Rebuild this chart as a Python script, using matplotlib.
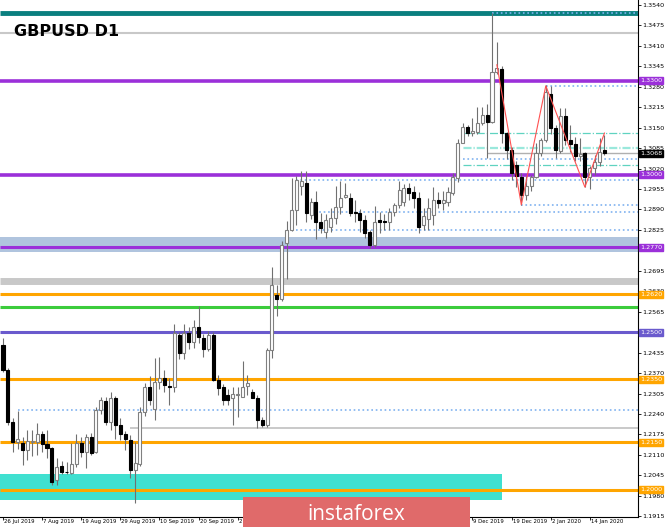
import matplotlib
matplotlib.use("Agg")
import matplotlib.pyplot as plt
import matplotlib.transforms as mtransforms
from matplotlib.patches import Rectangle
import numpy as np

# daily candles, 26 Jul 2019 .. 17 Jan 2020 (one per trading day)
opens = [1.2460, 1.2380, 1.2215, 1.2150, 1.2148, 1.2125, 1.2150, 1.2150, 1.2175, 1.2145,
         1.2132, 1.2030, 1.2075, 1.2057, 1.2053, 1.2080, 1.2148, 1.2120, 1.2167, 1.2118,
         1.2253, 1.2282, 1.2215, 1.2290, 1.2205, 1.2178, 1.2157, 1.2062, 1.2080, 1.2246,
         1.2326, 1.2256, 1.2342, 1.2355, 1.2330, 1.2326, 1.2490, 1.2435, 1.2497, 1.2470,
         1.2517, 1.2480, 1.2446, 1.2490, 1.2348, 1.2325, 1.2300, 1.2290, 1.2300, 1.2295,
         1.2330, 1.2310, 1.2292, 1.2222, 1.2205, 1.2443, 1.2618, 1.2605, 1.2783, 1.2825,
         1.2888, 1.2965, 1.2975, 1.2873, 1.2914, 1.2850, 1.2818, 1.2835, 1.2862, 1.2898,
         1.2930, 1.2928, 1.2882, 1.2878, 1.2857, 1.2818, 1.2777, 1.2856, 1.2855, 1.2850,
         1.2882, 1.2904, 1.2915, 1.2958, 1.2945, 1.2925, 1.2840, 1.2860, 1.2873, 1.2920,
         1.2912, 1.2915, 1.2943, 1.2990, 1.3101, 1.3152, 1.3133, 1.3136, 1.3165, 1.3190,
         1.3168, 1.3327, 1.3335, 1.3133, 1.3080, 1.3033, 1.2993, 1.2936, 1.2965, 1.2993,
         1.3070, 1.3110, 1.3258, 1.3150, 1.3075, 1.3188, 1.3112, 1.3097, 1.3060, 1.3070,
         1.2994, 1.3022, 1.3040, 1.3078]
highs = [1.2481, 1.2385, 1.2228, 1.2250, 1.2167, 1.2190, 1.2190, 1.2210, 1.2185, 1.2190,
         1.2135, 1.2100, 1.2090, 1.2088, 1.2148, 1.2175, 1.2167, 1.2176, 1.2180, 1.2262,
         1.2294, 1.2295, 1.2310, 1.2297, 1.2227, 1.2185, 1.2172, 1.2150, 1.2262, 1.2340,
         1.2362, 1.2418, 1.2420, 1.2380, 1.2355, 1.2527, 1.2501, 1.2527, 1.2515, 1.2540,
         1.2582, 1.2495, 1.2505, 1.2500, 1.2365, 1.2335, 1.2320, 1.2325, 1.2325, 1.2410,
         1.2365, 1.2320, 1.2300, 1.2230, 1.2450, 1.2708, 1.2650, 1.2790, 1.2855, 1.2990,
         1.2996, 1.3013, 1.3012, 1.2925, 1.2950, 1.2880, 1.2875, 1.2895, 1.2965, 1.2982,
         1.2975, 1.2942, 1.2920, 1.2893, 1.2872, 1.2825, 1.2902, 1.2882, 1.2875, 1.2895,
         1.2910, 1.2980, 1.2970, 1.2975, 1.2965, 1.2945, 1.2895, 1.2925, 1.2960, 1.2945,
         1.2950, 1.2960, 1.3005, 1.3115, 1.3165, 1.3158, 1.3181, 1.3215, 1.3215, 1.3225,
         1.3514, 1.3422, 1.3345, 1.3135, 1.3090, 1.3045, 1.3005, 1.2995, 1.3000, 1.3100,
         1.3118, 1.3285, 1.3283, 1.3160, 1.3212, 1.3213, 1.3159, 1.3120, 1.3118, 1.3074,
         1.3029, 1.3064, 1.3118, 1.3127]
lows = [1.2375, 1.2205, 1.2119, 1.2130, 1.2078, 1.2095, 1.2105, 1.2110, 1.2120, 1.2100,
        1.2015, 1.2014, 1.2050, 1.2048, 1.2048, 1.2072, 1.2103, 1.2068, 1.2110, 1.2115,
        1.2240, 1.2205, 1.2190, 1.2160, 1.2158, 1.2126, 1.2035, 1.1958, 1.2075, 1.2235,
        1.2268, 1.2222, 1.2320, 1.2310, 1.2270, 1.2310, 1.2415, 1.2415, 1.2447, 1.2450,
        1.2465, 1.2420, 1.2440, 1.2345, 1.2300, 1.2270, 1.2270, 1.2205, 1.2230, 1.2295,
        1.2300, 1.2290, 1.2195, 1.2200, 1.2200, 1.2418, 1.2553, 1.2598, 1.2670, 1.2822,
        1.2840, 1.2935, 1.2850, 1.2860, 1.2795, 1.2815, 1.2800, 1.2820, 1.2845, 1.2875,
        1.2925, 1.2868, 1.2850, 1.2820, 1.2800, 1.2767, 1.2772, 1.2815, 1.2825, 1.2825,
        1.2868, 1.2895, 1.2900, 1.2920, 1.2895, 1.2815, 1.2825, 1.2825, 1.2840, 1.2895,
        1.2887, 1.2900, 1.2935, 1.2978, 1.3100, 1.3125, 1.3125, 1.3130, 1.3160, 1.3055,
        1.3165, 1.3320, 1.3100, 1.3050, 1.2985, 1.2960, 1.2905, 1.2920, 1.2950, 1.2990,
        1.3060, 1.3105, 1.3130, 1.3055, 1.3070, 1.3096, 1.3073, 1.3045, 1.3043, 1.2961,
        1.2955, 1.2999, 1.3029, 1.3062]
closes = [1.2380, 1.2215, 1.2150, 1.2160, 1.2125, 1.2155, 1.2153, 1.2175, 1.2145, 1.2132,
          1.2024, 1.2073, 1.2057, 1.2055, 1.2080, 1.2148, 1.2120, 1.2167, 1.2117, 1.2253,
          1.2285, 1.2215, 1.2292, 1.2205, 1.2176, 1.2160, 1.2062, 1.2085, 1.2246, 1.2326,
          1.2285, 1.2342, 1.2355, 1.2333, 1.2326, 1.2497, 1.2435, 1.2497, 1.2470, 1.2517,
          1.2485, 1.2446, 1.2490, 1.2348, 1.2322, 1.2283, 1.2285, 1.2305, 1.2302, 1.2326,
          1.2340, 1.2292, 1.2220, 1.2205, 1.2443, 1.2650, 1.2605, 1.2777, 1.2825, 1.2888,
          1.2984, 1.2980, 1.2880, 1.2914, 1.2850, 1.2830, 1.2856, 1.2862, 1.2898, 1.2928,
          1.2935, 1.2880, 1.2878, 1.2857, 1.2815, 1.2776, 1.2850, 1.2850, 1.2850, 1.2882,
          1.2904, 1.2952, 1.2958, 1.2942, 1.2925, 1.2835, 1.2870, 1.2895, 1.2920, 1.2912,
          1.2920, 1.2945, 1.2993, 1.3101, 1.3152, 1.3133, 1.3140, 1.3165, 1.3190, 1.3168,
          1.3327, 1.3340, 1.3133, 1.3080, 1.3006, 1.2995, 1.2936, 1.2965, 1.2993, 1.3070,
          1.3110, 1.3263, 1.3150, 1.3080, 1.3188, 1.3112, 1.3097, 1.3060, 1.3065, 1.2994,
          1.3022, 1.3042, 1.3072, 1.3068]

date_labels = ["26 Jul 2019", "7 Aug 2019", "19 Aug 2019", "29 Aug 2019", "10 Sep 2019",
               "20 Sep 2019", "2 Oct 2019", "14 Oct 2019", "24 Oct 2019", "5 Nov 2019",
               "15 Nov 2019", "27 Nov 2019", "9 Dec 2019", "19 Dec 2019", "2 Jan 2020",
               "14 Jan 2020"]
label_step = 8

price_ticks = np.round(np.arange(1.1915, 1.3541, 0.0065), 4)

# zigzag (bar index, price)
zz_bars = [101, 106, 111, 119, 123]
zz_prices = [1.3350, 1.2905, 1.3283, 1.2961, 1.3133]

# horizontal levels: price, first bar, colour, style, width
levels = [
    (1.3515, None, "#0a7f7f", "-", 3.5),
    (1.3514, 100, "#7fb2f0", ":", 1.2),
    (1.3450, None, "#c8c8c8", "-", 1.5),
    (1.3300, None, "#9b30d9", "-", 2.6),
    (1.3283, 111, "#7fb2f0", ":", 1.2),
    (1.3133, 94, "#5fd3c0", "-.", 0.9),
    (1.3090, 94, "#9ae8dc", "-.", 0.9),
    (1.3084, 94, "#9ae8dc", "-.", 0.9),
    (1.3068, 99, "#b0b0b0", "-", 1.0),
    (1.3050, 94, "#7fb2f0", ":", 1.2),
    (1.3030, 94, "#5fd3c0", "-.", 0.9),
    (1.3000, None, "#9b30d9", "-", 2.6),
    (1.2985, 60, "#7fb2f0", ":", 1.2),
    (1.2905, 106, "#7fb2f0", ":", 1.2),
    (1.2883, 62, "#7fb2f0", ":", 1.2),
    (1.2826, 60, "#7fb2f0", ":", 1.2),
    (1.2770, None, "#9b30d9", "-", 2.2),
    (1.2662, None, "#c8c8c8", "-", 5.0),
    (1.2620, None, "#ffa500", "-", 2.2),
    (1.2580, None, "#3ccc3c", "-", 2.2),
    (1.2500, None, "#6a5acd", "-", 2.2),
    (1.2350, None, "#ffa500", "-", 2.2),
    (1.2253, 3, "#7fb2f0", ":", 1.2),
    (1.2195, 26, "#c0c0c0", "-", 1.2),
    (1.2150, None, "#ffa500", "-", 2.2),
    (1.2000, None, "#ffa500", "-", 2.2),
]

# zones: low, high, last bar, colour
zones = [
    (1.2754, 1.2802, None, "#b0c4de"),
    (1.1968, 1.2048, 102, "#40e0d0"),
]

# boxed price labels on the axis: price, text, colour
axis_tags = [
    (1.3300, "1.3300", "#9b30d9"),
    (1.3068, "1.3068", "#000000"),
    (1.3000, "1.3000", "#9b30d9"),
    (1.2770, "1.2770", "#9b30d9"),
    (1.2620, "1.2620", "#ffa500"),
    (1.2500, "1.2500", "#6a5acd"),
    (1.2350, "1.2350", "#ffa500"),
    (1.2150, "1.2150", "#ffa500"),
    (1.2000, "1.2000", "#ffa500"),
]

W, H = 665, 527
fig = plt.figure(figsize=(W / 100, H / 100), dpi=100)
ax = fig.add_axes([0, 10 / H, 638 / W, 517 / H])

bar_px = 4.89
x0_px = 3
xmin = -x0_px / bar_px
xmax = xmin + 638 / bar_px
ax.set_xlim(xmin, xmax)
ax.set_ylim(1.19126, 1.35559)

# zones first
for lo, hi, end, col in zones:
    right = xmax if end is None else end
    ax.fill_between([xmin, right], lo, hi, color=col, lw=0, zorder=1)

for price, start, col, ls, lw in levels:
    left = xmin if start is None else start
    ax.hlines(price, left, xmax, colors=col, linestyles=ls, linewidth=lw, zorder=2)

# candles
o = np.array(opens)
h = np.array(highs)
l = np.array(lows)
c = np.array(closes)
x = np.arange(len(c))
up = c >= o
ax.vlines(x, l, h, color="#707070", linewidth=0.8, zorder=3)
ax.bar(x[up], np.maximum(c[up] - o[up], 0.00004), bottom=o[up], width=0.62,
       facecolor="white", edgecolor="#808080", linewidth=0.8, zorder=4)
ax.bar(x[~up], c[~up] - o[~up], bottom=o[~up], width=0.62,
       facecolor="black", edgecolor="black", linewidth=0.8, zorder=4)

ax.plot(zz_bars, zz_prices, color="#ff5050", linewidth=0.8, zorder=5)

# axes cosmetics
for side in ["top", "left"]:
    ax.spines[side].set_visible(False)
ax.spines["right"].set_linewidth(0.8)
ax.spines["bottom"].set_linewidth(0.8)
ax.yaxis.tick_right()
ax.set_yticks(price_ticks)
ax.set_yticklabels([f"{p:.4f}" for p in price_ticks], fontsize=4.6)
ax.tick_params(axis="y", length=2, width=0.6, pad=1)
tick_bars = np.arange(len(date_labels)) * label_step
ax.set_xticks(tick_bars)
ax.set_xticklabels([])
ax.tick_params(axis="x", length=2, width=0.6)
date_trans = mtransforms.blended_transform_factory(ax.transData, ax.transAxes)
for b, lab in zip(tick_bars, date_labels):
    ax.text(b + 0.2, -0.004, lab, transform=date_trans,
            fontsize=3.9, ha="left", va="top")

trans = mtransforms.blended_transform_factory(ax.transAxes, ax.transData)
for price, txt, col in axis_tags:
    ax.text(1.003, price, txt, transform=trans, fontsize=4.6, color="white",
            ha="left", va="center", zorder=10,
            bbox=dict(boxstyle="square,pad=0.15", facecolor=col, edgecolor=col))

fig.text(14 / W, 1 - 31 / H, "GBPUSD D1", fontsize=11.5, fontweight="bold",
         ha="left", va="center", family="DejaVu Sans")

# watermark logo
fig.patches.append(Rectangle((243 / W, 0), 227 / W, 30 / H, transform=fig.transFigure,
                             facecolor="#e06a6a", edgecolor="none", zorder=20))
fig.text(356 / W, 13 / H, "instaforex", fontsize=15, color="white", ha="center",
         va="center", zorder=21, family="Open Sans")

fig.savefig("out.png", dpi=100)
